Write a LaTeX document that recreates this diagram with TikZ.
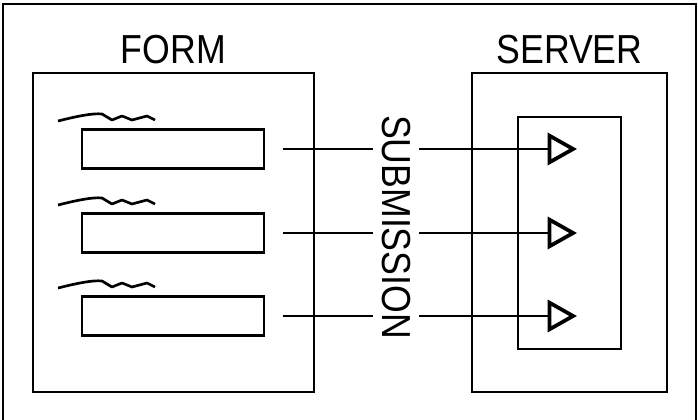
\documentclass[tikz,border=0pt]{standalone}
\usepackage{fontspec}
\setmainfont{Liberation Sans}[FakeStretch=0.88]
\usetikzlibrary{arrows.meta, positioning}

\begin{document}
\begin{tikzpicture}[x=0.75pt, y=-0.75pt,
      line width=2.2pt,
      panel/.style = {draw, rectangle, inner sep=0pt, minimum width=#1},
      field/.style = {draw, rectangle, inner sep=0pt,
        minimum width=136.5pt, minimum height=29pt},
      title/.style = {inner sep=0pt, font=\fontsize{30.4}{36}\selectfont},
      feed/.style = {-{Triangle[open, length=22pt, width=24pt, line width=2.8pt]},
        shorten <=13pt},
      scribble/.style = {line width=2pt, line join=round}
    ]
      \useasboundingbox (0,0) rectangle (698,420);
      % outer frame, bottom edge runs off the page
      \draw (3,420) -- (3,4) -- (696,4) -- (696,420);

      \node[panel=210.75pt, minimum height=239.25pt] (form) at (173.5,232.5) {};
      \node[panel=146.25pt, minimum height=239.25pt] (server) at (569.5,232.5) {};
      \node[panel=77.25pt, minimum height=174pt] (store) at (569.5,233) {};

      \node[title, above=5pt of form] (formlabel) {FORM};
      \node[title, above=5pt of server] (serverlabel) {SERVER};

      % three input fields with their scribbled captions
      \foreach \i/\y in {1/149, 2/233, 3/316} {
        \node[field] (f\i) at (173,\y) {};
        \coordinate (t\i) at (577,\y);
        \draw[scribble] (173,\y) ++(-115,-28)
          .. controls ++(20,-5) and ++(-9,-1) .. ++(44,-7)
          -- ++(10,6) -- ++(10,-4) -- ++(10,4) -- ++(15,-4) -- ++(8,4);
        \draw[feed] (f\i) -- (t\i);
      }

      \node[title, rotate=-90, fill=white, inner xsep=0pt, inner ysep=6.5pt]
        (submit) at (396,227) {SUBMISSION};
    \end{tikzpicture}
\end{document}
